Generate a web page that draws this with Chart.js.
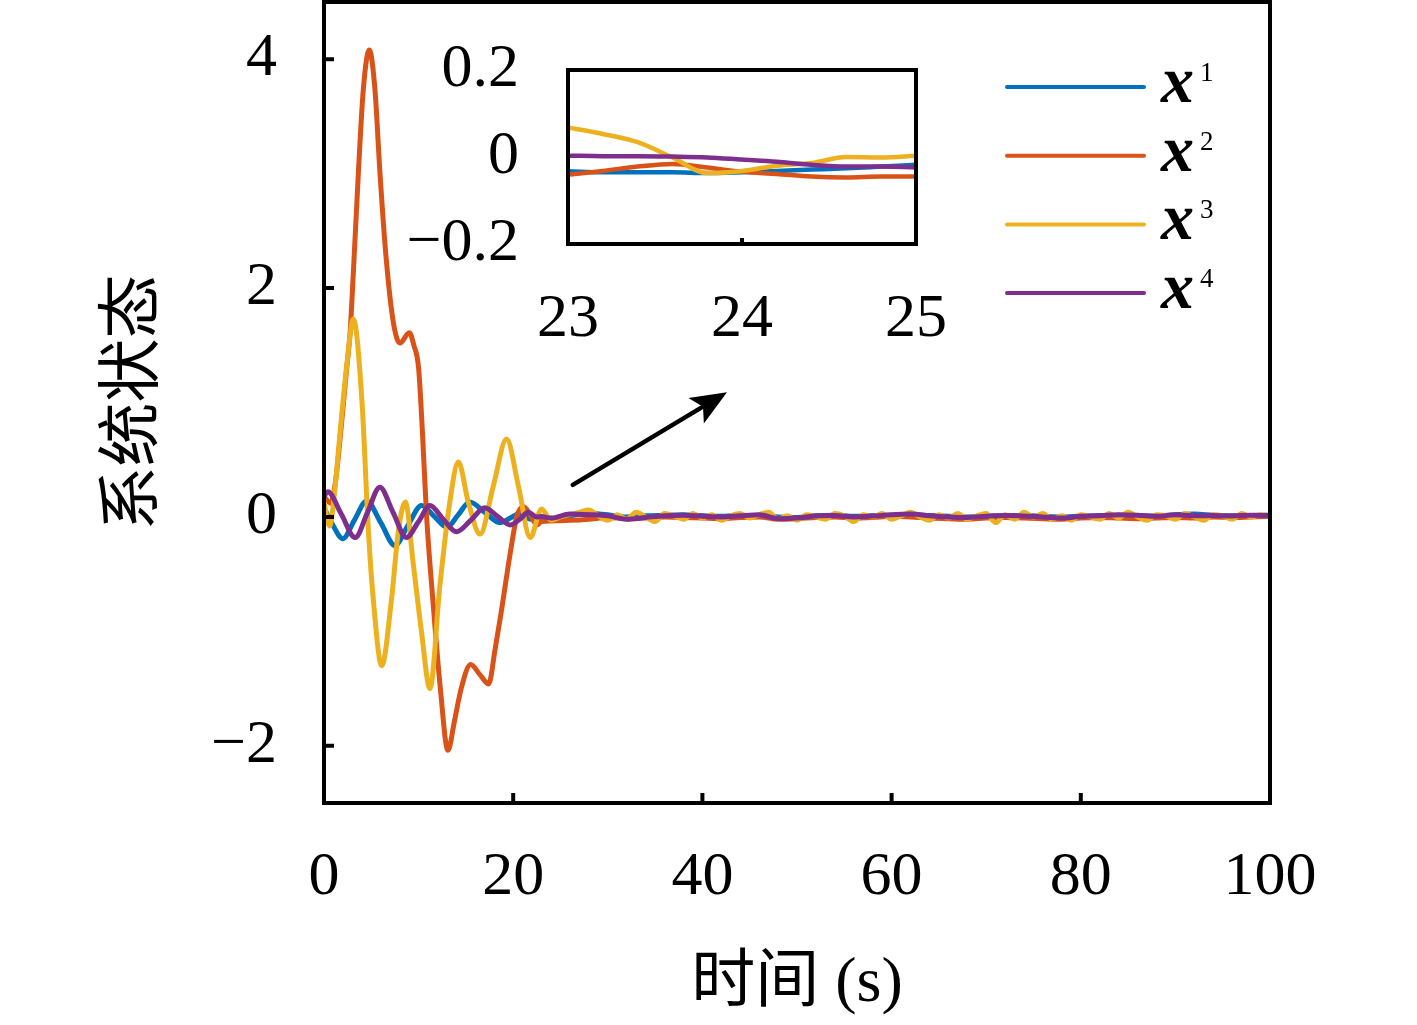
<!DOCTYPE html>
<html>
<head>
<meta charset="utf-8">
<title>系统状态</title>
<script src="https://cdn.jsdelivr.net/npm/chart.js@4.4.1/dist/chart.umd.min.js"></script>
<style>
  html, body { margin: 0; padding: 0; background: #fff; overflow: hidden; }
  #wrap  { position: relative; width: 1417px; height: 1025px; }
  #main  { position: absolute; left: 0; top: 0; }
  #inset { position: absolute; left: 380px; top: 0; }
</style>
</head>
<body>
<div id="wrap">
  <canvas id="main" width="1417" height="1025"></canvas>
  <canvas id="inset" width="600" height="380"></canvas>
</div>
<script>
'use strict';

/* ── Data ─────────────────────────────────────────────── */
const xTicks = [0, 20, 40, 60, 80, 100];
const yTicks = [-2, 0, 2, 4];
const insetXTicks = [23, 24, 25];
const insetYTicks = [-0.2, 0, 0.2];
const legendSup = ['1', '2', '3', '4'];

// transient part, 0 – 23 s
const x1T = [0, 0.8, 2.0, 3.2, 4.5, 6.0, 7.5, 8.9, 10.3, 11.7, 13.0, 14.2, 15.4, 17.0, 18.6, 19.7, 20.7, 21.8, 23.0];
const x1V = [0.08, -0.05, -0.19, -0.03, 0.14, -0.05, -0.25, -0.07, 0.10, 0.0, -0.09, 0.02, 0.13, 0.04, -0.05, -0.01, 0.03, -0.02, -0.03];

const x2T = [0, 0.7, 1.2, 1.8, 2.4, 2.75, 3.1, 3.63, 4.15, 4.79, 5.39, 5.92, 6.55, 7.33, 8.03, 9.02, 9.5, 10.0, 10.4, 10.85,
             11.55, 12.3, 13.1, 13.8, 14.5, 15.5, 16.5, 17.4, 18.1, 18.7, 19.7, 20.4, 21.1, 21.8, 22.5, 23.0];
const x2V = [0.18, 0.12, 0.3, 0.77, 1.3, 1.6, 2.13, 3.0, 3.73, 4.08, 3.73, 3.0, 2.28, 1.70, 1.52, 1.61, 1.5, 1.3, 0.75, 0.0,
             -0.77, -1.5, -2.04, -1.78, -1.5, -1.29, -1.38, -1.46, -1.15, -0.85, -0.31, 0.01, 0.09, 0.02, -0.07, -0.04];

const x3T = [0, 0.6, 1.1, 1.7, 2.4, 3.1, 4.0, 4.7, 5.2, 6.1, 7.15, 7.85, 8.6, 9.45, 10.3, 11.2, 12.25, 13.3, 14.2, 15.25, 16.5, 17.9, 19.3, 20.55, 21.8, 23.0];
const x3V = [0.13, -0.08, 0.2, 0.74, 1.32, 1.73, 1.03, -0.13, -0.71, -1.30, -0.71, -0.13, 0.13, -0.42, -1.0, -1.50, -0.6, 0.13, 0.48, 0.13, -0.15, 0.27, 0.68, 0.27, -0.18, 0.07];

const x4T = [0, 0.4, 1.8, 3.3, 4.6, 5.9, 7.3, 8.7, 10.0, 11.2, 12.6, 14.0, 15.5, 17.0, 18.4, 19.7, 20.7, 21.6, 22.5, 23.0];
const x4V = [0.18, 0.22, 0.03, -0.18, 0.04, 0.26, 0.04, -0.18, -0.04, 0.10, -0.02, -0.13, -0.03, 0.08, 0.0, -0.07, -0.02, 0.04, 0.0, 0.003];

// steady part, 24 – 100 s
const tailT = [24, 26, 28, 30, 32, 34, 36, 38, 40, 42, 44, 46, 48, 50, 52, 54, 56, 58, 60, 62,
               64, 66, 68, 70, 72, 74, 76, 78, 80, 82, 84, 86, 88, 90, 92, 94, 96, 98, 100];
const x1Tail = [-0.03, 0.01, 0.03, 0.02, 0.0, 0.01, 0.015, 0.02, 0.01, 0.005, 0.015, 0.01, 0.0, -0.005, 0.01, 0.015, 0.005, 0.01, 0.015, 0.02,
                0.012, 0.005, 0.0, 0.008, 0.01, 0.012, 0.005, 0.0, 0.008, 0.012, 0.015, 0.01, 0.008, 0.02, 0.025, 0.015, 0.01, 0.012, 0.015];
const x2Tail = [-0.035, -0.03, -0.02, -0.005, -0.015, -0.01, 0.0, -0.005, -0.01, -0.015, -0.005, 0.0, -0.02, -0.015, -0.005, 0.0, -0.01, -0.005, 0.005, 0.0,
                -0.01, -0.015, -0.02, -0.01, -0.005, -0.01, -0.015, -0.02, -0.01, -0.005, -0.01, -0.015, -0.01, -0.005, -0.01, 0.0, -0.005, 0.0, 0.005];
const x4Tail = [-0.01, 0.025, 0.02, 0.01, -0.02, -0.005, 0.01, 0.015, 0.005, 0.0, 0.01, 0.018, -0.015, -0.01, 0.008, 0.012, 0.0, 0.008, 0.02, 0.025,
                0.01, 0.0, -0.005, 0.005, 0.012, 0.008, 0.0, -0.01, 0.005, 0.01, 0.02, 0.015, 0.005, 0.018, 0.01, 0.012, 0.008, 0.015, 0.012];

const tailTy = [24, 25, 26, 27, 28, 29, 30, 31, 32, 33, 34, 35, 36, 37, 38, 39, 40, 41, 42, 43,
                44, 45, 46, 47, 48, 49, 50, 51, 52, 53, 54, 55, 56, 57, 58, 59, 60, 61, 62, 63,
                64, 65, 66, 67, 68, 69, 70, 71, 72, 73, 74, 75, 76, 77, 78, 79, 80, 81, 82, 83,
                84, 85, 86, 87, 88, 89, 90, 91, 92, 93, 94, 95, 96, 97, 98, 99, 100];
const x3Tail = [-0.03, 0.0, 0.02, 0.04, 0.06, 0.01, -0.03, 0.02, -0.02, 0.04, 0.0, -0.04, 0.03, 0.01, -0.02, 0.03, -0.01, 0.02, -0.03, 0.01,
                0.03, -0.01, 0.02, 0.04, -0.02, 0.01, -0.03, 0.02, 0.0, -0.02, 0.03, 0.01, -0.04, 0.02, 0.0, 0.03, -0.02, 0.01, 0.04, 0.0,
                -0.03, 0.02, -0.01, 0.03, -0.02, 0.01, 0.03, -0.05, 0.02, -0.02, 0.04, 0.0, 0.03, -0.02, 0.01, -0.03, 0.02, 0.0, -0.02, 0.03,
                -0.01, 0.04, 0.0, -0.03, 0.02, 0.01, -0.02, 0.03, 0.0, -0.03, 0.02, 0.01, -0.02, 0.03, 0.0, 0.02, 0.01];

// zoomed window, 23 – 25 s
const insetT  = [23.0, 23.2, 23.4, 23.6, 23.8, 24.0, 24.2, 24.4, 24.6, 24.8, 25.0];
const inset1V = [-0.033, -0.035, -0.035, -0.035, -0.037, -0.035, -0.032, -0.029, -0.026, -0.022, -0.018];
const inset2V = [-0.041, -0.032, -0.022, -0.016, -0.024, -0.034, -0.039, -0.045, -0.047, -0.045, -0.045];
const inset3V = [0.068, 0.053, 0.034, -0.001, -0.037, -0.032, -0.020, -0.014, 0.0, -0.001, 0.003];
const inset4V = [0.003, 0.002, 0.002, 0.001, -0.001, -0.006, -0.011, -0.018, -0.022, -0.022, -0.024];

/* ── Style ────────────────────────────────────────────── */
const COLORS = ['#0072BD', '#D95319', '#EDB120', '#7E2F8E'];
const SERIF = '"Liberation Serif", "Noto Sans CJK SC", serif';
const ARROW = { from: [26.3, 0.28], to: [42.6, 1.09] };

/* ── Helpers ──────────────────────────────────────────── */
function pts(ts, vs) { return ts.map((t, i) => ({ x: t, y: vs[i] })); }
function fmtTick(v) { return v < 0 ? '\u2212' + Math.abs(v) : String(v); }

function series(i, data, width) {
  return {
    label: 'x' + legendSup[i],
    data,
    borderColor: COLORS[i],
    borderWidth: width,
    pointRadius: 0,
    cubicInterpolationMode: 'monotone',
    order: 4 - i,          // x4 on top, like the original
  };
}

/* ── Plugins ──────────────────────────────────────────── */
const framePlugin = {
  id: 'frame',
  afterDatasetsDraw(chart, args, opts) {
    const { ctx, chartArea: a, scales } = chart;
    ctx.save();
    ctx.strokeStyle = '#000';
    ctx.lineWidth = opts.lineWidth;
    ctx.lineCap = 'square';
    ctx.strokeRect(a.left, a.top, a.right - a.left, a.bottom - a.top);
    ctx.beginPath();
    (opts.xMarks || []).forEach(v => {
      const px = scales.x.getPixelForValue(v);
      ctx.moveTo(px, a.bottom); ctx.lineTo(px, a.bottom - opts.tickLen);
    });
    (opts.yMarks || []).forEach(v => {
      const py = scales.y.getPixelForValue(v);
      ctx.moveTo(a.left, py); ctx.lineTo(a.left + opts.tickLen, py);
    });
    ctx.lineCap = 'butt';
    ctx.stroke();
    ctx.restore();
  }
};

const arrowPlugin = {
  id: 'arrow',
  afterDatasetsDraw(chart) {
    const { ctx, scales: { x, y } } = chart;
    const x0 = x.getPixelForValue(ARROW.from[0]), y0 = y.getPixelForValue(ARROW.from[1]);
    const x1 = x.getPixelForValue(ARROW.to[0]),   y1 = y.getPixelForValue(ARROW.to[1]);
    const ang = Math.atan2(y1 - y0, x1 - x0);
    const len = 36, half = 15;
    const bx = x1 - len * Math.cos(ang), by = y1 - len * Math.sin(ang);
    ctx.save();
    ctx.strokeStyle = '#000'; ctx.fillStyle = '#000';
    ctx.lineWidth = 4.5; ctx.lineCap = 'round';
    ctx.beginPath(); ctx.moveTo(x0, y0); ctx.lineTo(bx + 6 * Math.cos(ang), by + 6 * Math.sin(ang)); ctx.stroke();
    ctx.beginPath();
    ctx.moveTo(x1, y1);
    ctx.lineTo(bx - half * Math.sin(ang), by + half * Math.cos(ang));
    ctx.lineTo(bx + 8 * Math.cos(ang), by + 8 * Math.sin(ang));
    ctx.lineTo(bx + half * Math.sin(ang), by - half * Math.cos(ang));
    ctx.closePath(); ctx.fill();
    ctx.restore();
  }
};

const legendPlugin = {
  id: 'supLegend',
  afterDraw(chart) {
    const { ctx, chartArea: a } = chart;
    ctx.save();
    chart.data.datasets.forEach((ds, i) => {
      const ly = a.top + 85 + i * 68.7;
      ctx.strokeStyle = ds.borderColor;
      ctx.lineWidth = 4;
      ctx.lineCap = 'round';
      ctx.beginPath(); ctx.moveTo(a.right - 263, ly); ctx.lineTo(a.right - 126, ly); ctx.stroke();
      ctx.fillStyle = '#000';
      ctx.textBaseline = 'alphabetic';
      ctx.textAlign = 'left';
      ctx.font = 'italic bold 66px ' + SERIF;
      ctx.fillText('x', a.right - 109, ly + 15);
      ctx.font = '27px ' + SERIF;
      ctx.fillText(legendSup[i], a.right - 70, ly - 6);
    });
    ctx.restore();
  }
};

/* ── Main chart ───────────────────────────────────────── */
new Chart(document.getElementById('main'), {
  type: 'line',
  data: {
    datasets: [
      series(0, pts(x1T, x1V).concat(pts(tailT, x1Tail)), 5),
      series(1, pts(x2T, x2V).concat(pts(tailT, x2Tail)), 5),
      series(2, pts(x3T, x3V).concat(pts(tailTy, x3Tail)), 5),
      series(3, pts(x4T, x4V).concat(pts(tailT, x4Tail)), 5),
    ]
  },
  options: {
    responsive: false,
    animation: false,
    layout: { padding: { left: 0, top: 2, right: 147, bottom: 0 } },
    plugins: {
      legend: { display: false },
      tooltip: { enabled: false },
      frame: { lineWidth: 4, tickLen: 10, xMarks: xTicks, yMarks: yTicks },
    },
    scales: {
      x: {
        type: 'linear', min: 0, max: 100,
        afterBuildTicks: s => { s.ticks = xTicks.map(v => ({ value: v })); },
        afterFit: s => { s.height = 222; s.paddingLeft = 0; s.paddingRight = 0; },
        grid: { display: false, drawTicks: false },
        border: { display: false },
        ticks: { color: '#000', padding: 38, maxRotation: 0, autoSkip: false,
                 font: { family: SERIF, size: 62 }, callback: fmtTick },
        title: { display: true, text: '时间 (s)', color: '#000',
                 font: { family: SERIF, size: 64 }, padding: { top: 0, bottom: 2 } },
      },
      y: {
        type: 'linear', min: -2.5, max: 4.5,
        afterBuildTicks: s => { s.ticks = yTicks.map(v => ({ value: v })); },
        afterFit: s => { s.width = 324; s.paddingTop = 0; s.paddingBottom = 0; },
        grid: { display: false, drawTicks: false },
        border: { display: false },
        ticks: { color: '#000', padding: 47, font: { family: SERIF, size: 62 }, callback: fmtTick },
        title: { display: true, text: '系统状态', color: '#000',
                 font: { family: SERIF, size: 64 }, padding: { top: 97, bottom: 0 } },
      }
    }
  },
  plugins: [framePlugin, arrowPlugin, legendPlugin]
});

/* ── Inset chart ──────────────────────────────────────── */
new Chart(document.getElementById('inset'), {
  type: 'line',
  data: {
    datasets: [
      series(0, pts(insetT, inset1V), 4.5),
      series(1, pts(insetT, inset2V), 4.5),
      series(2, pts(insetT, inset3V), 4.5),
      series(3, pts(insetT, inset4V), 4.5),
    ]
  },
  options: {
    responsive: false,
    animation: false,
    layout: { padding: { left: 0, top: 70, right: 64, bottom: 0 } },
    plugins: {
      legend: { display: false },
      tooltip: { enabled: false },
      frame: { lineWidth: 4, tickLen: 6, xMarks: [24], yMarks: [] },
    },
    scales: {
      x: {
        type: 'linear', min: 23, max: 25,
        afterBuildTicks: s => { s.ticks = insetXTicks.map(v => ({ value: v })); },
        afterFit: s => { s.height = 136; s.paddingLeft = 0; s.paddingRight = 0; },
        grid: { display: false, drawTicks: false },
        border: { display: false },
        ticks: { color: '#000', padding: 39, maxRotation: 0, autoSkip: false,
                 font: { family: SERIF, size: 62 }, callback: fmtTick },
      },
      y: {
        type: 'linear', min: -0.2, max: 0.2,
        afterBuildTicks: s => { s.ticks = insetYTicks.map(v => ({ value: v })); },
        afterFit: s => { s.width = 188; s.paddingTop = 0; s.paddingBottom = 0; },
        grid: { display: false, drawTicks: false },
        border: { display: false },
        ticks: { color: '#000', padding: 49, font: { family: SERIF, size: 62 }, callback: fmtTick },
      }
    }
  },
  plugins: [framePlugin]
});
</script>
</body>
</html>
